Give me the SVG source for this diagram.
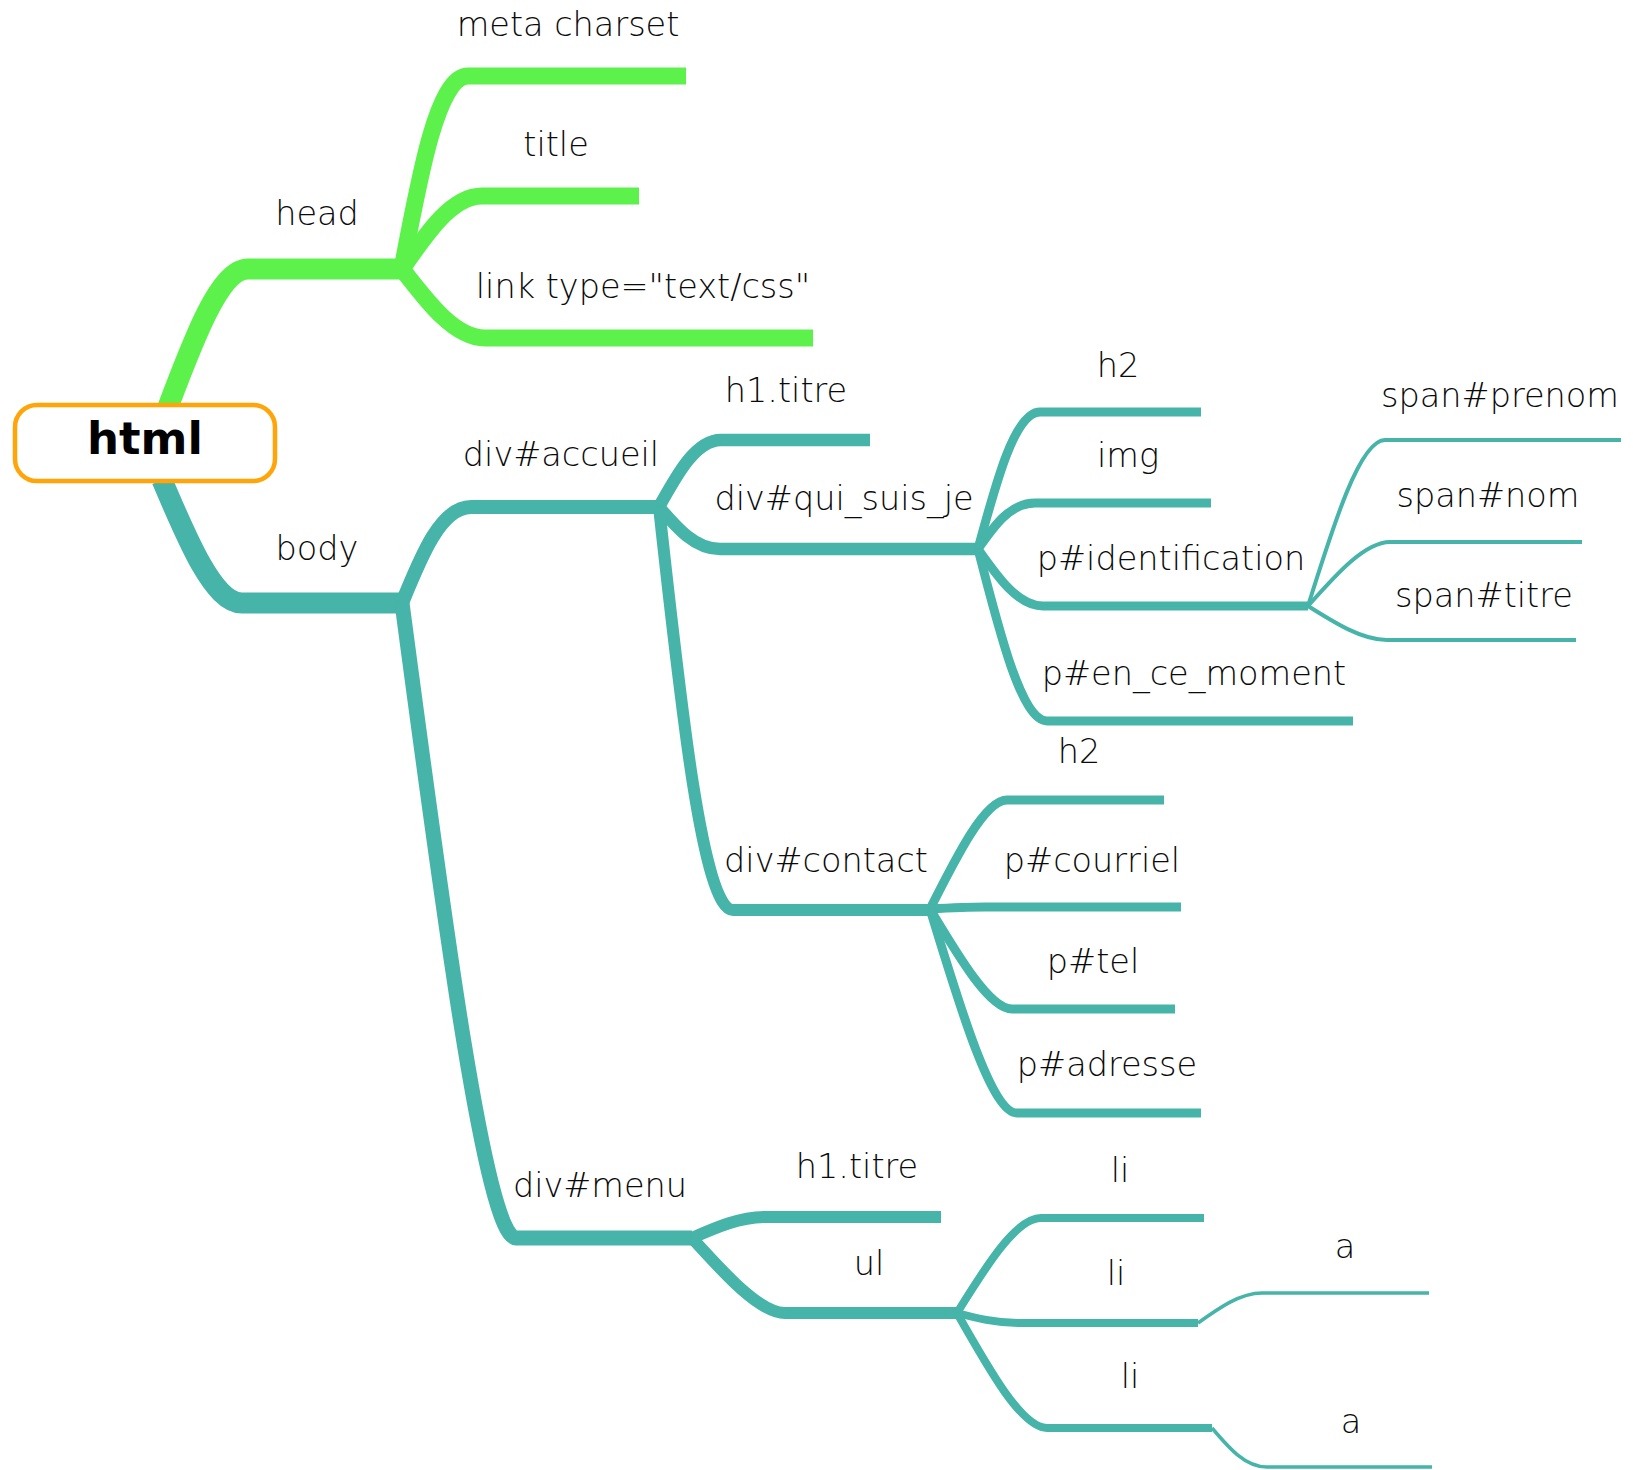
<svg xmlns="http://www.w3.org/2000/svg" width="1633" height="1470" viewBox="0 0 1633 1470">
<style>
.g{stroke:#5CF24B;fill:none;stroke-linecap:butt;stroke-linejoin:round}
.t{stroke:#46B4A8;fill:none;stroke-linecap:butt;stroke-linejoin:round}
.lbl{font-family:"DejaVu Sans","Liberation Sans",sans-serif;font-size:33.5px;font-weight:200;fill:#0a0a0a;text-anchor:middle}
.root{font-family:"DejaVu Sans","Liberation Sans",sans-serif;font-size:45px;font-weight:bold;fill:#000;text-anchor:middle}
</style>
<rect width="1633" height="1470" fill="#fff"/>
<g id="connectors">
<path class="g" stroke-width="21" d="M168 407 C194 338 220 269 248 269 H402"/>
<path class="t" stroke-width="21" d="M162 480 C188 541.5 214 603 242 603 H402"/>
<path class="g" stroke-width="17" d="M402 269 C420 172.5 438 76 468 76 H686"/>
<path class="g" stroke-width="17" d="M402 269 C427 232.5 452 196 482 196 H639"/>
<path class="g" stroke-width="17" d="M402 269 C428.5 303.5 455 338 485 338 H813"/>
<path class="t" stroke-width="14" d="M402 603 C421.5 555 441 507 471 507 H659"/>
<path class="t" stroke-width="15" d="M402 603 C444 920.5 486 1238 516 1238 H692"/>
<path class="t" stroke-width="12.5" d="M659 507 C677.5 473.5 696 440 721 440 H870"/>
<path class="t" stroke-width="12.5" d="M659 507 C677 528 695 549 720 549 H978"/>
<path class="t" stroke-width="12" d="M659 507 C681 708.5 703 910 733 910 H930"/>
<path class="t" stroke-width="9" d="M978 549 C996.5 480.5 1015 412 1040 412 H1201"/>
<path class="t" stroke-width="9" d="M978 549 C994 526 1010 503 1035 503 H1211"/>
<path class="t" stroke-width="9" d="M978 549 C998 577.5 1018 606 1043 606 H1308"/>
<path class="t" stroke-width="9" d="M978 549 C1000 635 1022 721 1047 721 H1353"/>
<path class="t" stroke-width="4" d="M1308 606 C1334 523 1360 440 1385 440 H1621"/>
<path class="t" stroke-width="4" d="M1308 606 C1336.5 574 1365 542 1390 542 H1582"/>
<path class="t" stroke-width="4" d="M1308 606 C1335 623 1362 640 1387 640 H1576"/>
<path class="t" stroke-width="9" d="M930 909 C957.5 854.5 985 800 1007 800 H1164"/>
<path class="t" stroke-width="9" d="M930 909 C947.5 908 965 907 985 907 H1181"/>
<path class="t" stroke-width="9" d="M930 909 C960 959 990 1009 1012 1009 H1175"/>
<path class="t" stroke-width="9" d="M930 909 C961 1011 992 1113 1017 1113 H1201"/>
<path class="t" stroke-width="12" d="M692 1238 C716 1227.5 740 1217 765 1217 H941"/>
<path class="t" stroke-width="12" d="M692 1238 C726 1275.5 760 1313 785 1313 H957"/>
<path class="t" stroke-width="8" d="M957 1313 C986.5 1265.5 1016 1218 1041 1218 H1204"/>
<path class="t" stroke-width="8" d="M957 1313 C976 1318 995 1323 1020 1323 H1198"/>
<path class="t" stroke-width="8" d="M957 1313 C989.5 1370.5 1022 1428 1047 1428 H1212"/>
<path class="t" stroke-width="3.5" d="M1198 1323 C1219 1308 1240 1293 1262 1293 H1429"/>
<path class="t" stroke-width="3.5" d="M1212 1428 C1228.5 1447.5 1245 1467 1267 1467 H1432"/>
</g>
<g id="node-html">
<rect x="15" y="405" width="260" height="76" rx="22" fill="#fff" stroke="#FFA50A" stroke-width="4.5"/>
<text class="root" x="145" y="454">html</text>
</g>
<g id="node-head"><text class="lbl" x="317" y="225">head</text></g>
<g id="node-body"><text class="lbl" x="317" y="560">body</text></g>
<g id="node-meta"><text class="lbl" x="568" y="36">meta charset</text></g>
<g id="node-title"><text class="lbl" x="556" y="156">title</text></g>
<g id="node-link"><text class="lbl" x="643" y="298">link type=&quot;text/css&quot;</text></g>
<g id="node-div-accueil"><text class="lbl" x="561" y="466">div#accueil</text></g>
<g id="node-div-menu"><text class="lbl" x="600" y="1197">div#menu</text></g>
<g id="node-h1-accueil"><text class="lbl" x="786" y="402">h1.titre</text></g>
<g id="node-div-qui"><text class="lbl" x="844" y="510">div#qui_suis_je</text></g>
<g id="node-div-contact"><text class="lbl" x="826" y="872">div#contact</text></g>
<g id="node-h2-qui"><text class="lbl" x="1118" y="377">h2</text></g>
<g id="node-img"><text class="lbl" x="1128" y="467">img</text></g>
<g id="node-p-identification"><text class="lbl" x="1171" y="570">p#identification</text></g>
<g id="node-p-en-ce-moment"><text class="lbl" x="1194" y="685">p#en_ce_moment</text></g>
<g id="node-span-prenom"><text class="lbl" x="1500" y="407">span#prenom</text></g>
<g id="node-span-nom"><text class="lbl" x="1488" y="507">span#nom</text></g>
<g id="node-span-titre"><text class="lbl" x="1484" y="607">span#titre</text></g>
<g id="node-h2-contact"><text class="lbl" x="1079" y="763">h2</text></g>
<g id="node-p-courriel"><text class="lbl" x="1092" y="872">p#courriel</text></g>
<g id="node-p-tel"><text class="lbl" x="1093" y="973">p#tel</text></g>
<g id="node-p-adresse"><text class="lbl" x="1107" y="1076">p#adresse</text></g>
<g id="node-h1-menu"><text class="lbl" x="857" y="1178">h1.titre</text></g>
<g id="node-ul"><text class="lbl" x="869" y="1275">ul</text></g>
<g id="node-li1"><text class="lbl" x="1120" y="1182">li</text></g>
<g id="node-li2"><text class="lbl" x="1116" y="1285">li</text></g>
<g id="node-li3"><text class="lbl" x="1130" y="1388">li</text></g>
<g id="node-a1"><text class="lbl" x="1345" y="1258">a</text></g>
<g id="node-a2"><text class="lbl" x="1351" y="1433">a</text></g>
</svg>
